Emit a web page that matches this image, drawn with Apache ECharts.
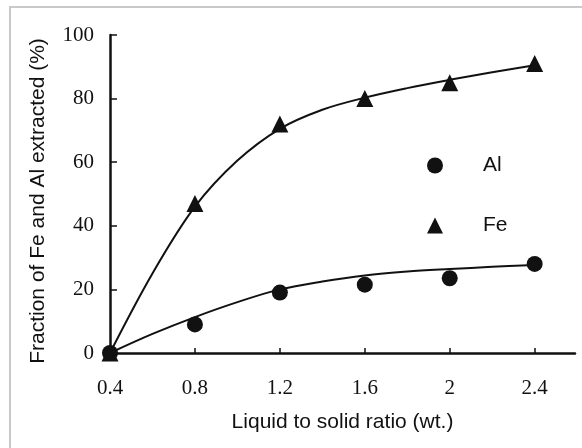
<!DOCTYPE html>
<html>
<head>
<meta charset="utf-8">
<script src="https://cdn.jsdelivr.net/npm/echarts@6/dist/echarts.min.js"></script>
<style>
  html, body { margin: 0; padding: 0; background: #fff; }
  #chart { width: 582px; height: 448px; }
</style>
</head>
<body>
<div id="chart"></div>
<script>
// Liquid-to-solid ratio (wt.) at which extraction was measured
const ratios = [0.4, 0.8, 1.2, 1.6, 2.0, 2.4];
// Measured fraction extracted (%)
const alMeasured = [0, 9, 19, 21.5, 23.5, 28];
const feMeasured = [0, 47, 72, 80, 85, 91];

// Fitted trend curves (%), sampled along the ratio axis
const fitRatios = [0.4, 0.6, 0.8, 1.0, 1.2, 1.4, 1.6, 1.8, 2.0, 2.2, 2.4];
const alFit = [0, 6, 11.3, 16, 20, 22.5, 24.4, 25.6, 26.4, 27.1, 27.7];
const feFit = [0, 25, 46, 60.5, 70.5, 76.5, 80.3, 83.3, 85.9, 88.3, 90.5];

// Axis ticks
const xTicks = [0.4, 0.8, 1.2, 1.6, 2, 2.4];

const pairs = (xs, ys) => xs.map((x, i) => [x, ys[i]]);

const ink = '#111';
const serif = '"Liberation Serif", "DejaVu Serif", serif';
const sans = '"Liberation Sans", Arial, sans-serif';

const chart = echarts.init(document.getElementById('chart'), null, { renderer: 'canvas' });

chart.setOption({
  backgroundColor: '#fff',
  animation: false,
  graphic: [
    {
      type: 'rect',
      shape: { x: 10, y: 7, width: 620, height: 500 },
      style: { fill: 'none', stroke: '#c9c9c9', lineWidth: 2 },
      silent: true
    },
    {
      type: 'text',
      x: 38,
      y: 201,
      rotation: Math.PI / 2,
      style: {
        text: 'Fraction of Fe and Al extracted (%)',
        fontFamily: sans,
        fontSize: 21,
        fill: ink,
        align: 'center',
        verticalAlign: 'middle'
      },
      silent: true
    }
  ],
  grid: { left: 110, right: 7, top: 35, bottom: 95, containLabel: false },
  legend: {
    data: [
      { name: 'Al', icon: 'circle' },
      { name: 'Fe', icon: 'triangle' }
    ],
    orient: 'vertical',
    left: 422,
    top: 150,
    itemWidth: 16,
    itemHeight: 16,
    itemGap: 39,
    textStyle: { fontFamily: sans, fontSize: 21, lineHeight: 16, color: ink, padding: [0, 0, 0, 35] },
    selectedMode: false
  },
  xAxis: {
    type: 'value',
    min: 0.4,
    max: 2.59,
    name: 'Liquid to solid ratio (wt.)',
    nameLocation: 'middle',
    nameGap: 59,
    nameTextStyle: { fontFamily: sans, fontSize: 21, color: ink },
    splitLine: { show: false },
    axisLine: { show: true, onZero: false, lineStyle: { color: ink, width: 2.5 } },
    axisTick: { show: true, inside: true, length: 5, customValues: xTicks, lineStyle: { color: ink, width: 1.5 } },
    axisLabel: {
      customValues: xTicks,
      margin: 25,
      fontFamily: serif,
      fontSize: 21,
      color: ink,
      formatter: v => String(v)
    }
  },
  yAxis: {
    type: 'value',
    min: 0,
    max: 100,
    interval: 20,
    splitLine: { show: false },
    axisLine: { show: true, lineStyle: { color: ink, width: 2.5 } },
    axisTick: { show: true, inside: true, length: 7, lineStyle: { color: ink, width: 1.5 } },
    axisLabel: { margin: 16, fontFamily: serif, fontSize: 21, color: ink }
  },
  series: [
    {
      name: 'Fe fit',
      type: 'line',
      data: pairs(fitRatios, feFit),
      smooth: 0.35,
      showSymbol: false,
      lineStyle: { color: ink, width: 2 },
      z: 2
    },
    {
      name: 'Al fit',
      type: 'line',
      data: pairs(fitRatios, alFit),
      smooth: 0.35,
      showSymbol: false,
      lineStyle: { color: ink, width: 2 },
      z: 2
    },
    {
      name: 'Al',
      type: 'scatter',
      data: pairs(ratios, alMeasured),
      symbol: 'circle',
      symbolSize: 16,
      itemStyle: { color: ink, opacity: 1 },
      z: 3
    },
    {
      name: 'Fe',
      type: 'scatter',
      data: pairs(ratios, feMeasured),
      symbol: 'triangle',
      symbolSize: 17,
      itemStyle: { color: ink, opacity: 1 },
      z: 3
    }
  ]
});
</script>
</body>
</html>
